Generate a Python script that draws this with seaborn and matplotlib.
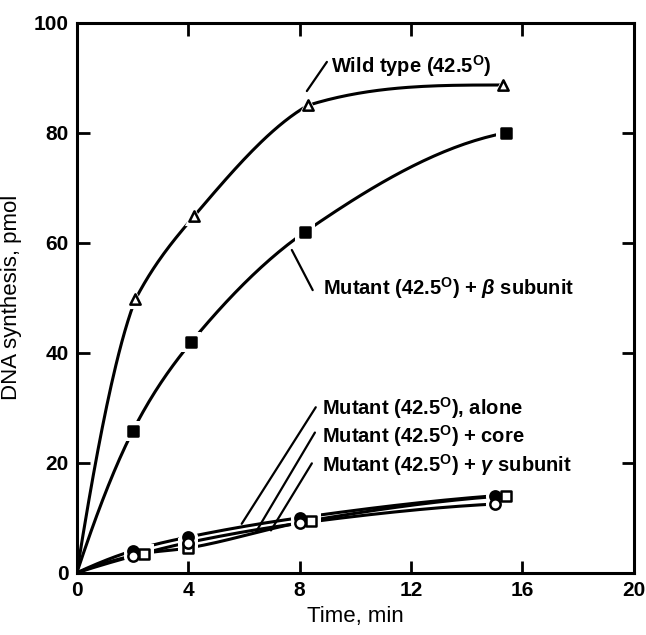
import numpy as np
import pandas as pd
import matplotlib
matplotlib.use("Agg")
import matplotlib.pyplot as plt
import seaborn as sns

# data (time in min, DNA synthesis in pmol)
wt_t = [0, 2.1, 4.2, 8.3, 15.3]
wt_y = [0, 49.7, 64.8, 85.0, 88.7]

beta_t = [0, 2.0, 4.1, 8.2, 15.4]
beta_y = [0, 25.7, 41.9, 62.0, 80.0]

alone_t = [0, 2.0, 4.0, 8.0, 15.0]
alone_y = [0, 4.0, 6.5, 10.0, 14.0]

core_t = [0, 2.4, 4.0, 8.4, 15.4]
core_y = [0, 3.5, 4.5, 9.5, 14.0]

gamma_t = [0, 2.0, 4.0, 8.0, 15.0]
gamma_y = [0, 3.0, 5.5, 9.0, 12.5]

xticks = [0, 4, 8, 12, 16, 20]
yticks = [0, 20, 40, 60, 80, 100]


def smooth(t, y, n=40):
    # hermite curve through the data points, only for drawing the line;
    # small bends at the symbols stay hidden under them, as in the original
    x = np.asarray(t, float)
    v = np.asarray(y, float)
    h = np.diff(x)
    d = np.diff(v) / h
    m = np.zeros_like(x)
    for k in range(1, len(x) - 1):
        if d[k - 1] * d[k] > 0:
            m[k] = np.sign(d[k]) * np.sqrt(d[k - 1] * d[k])
    m[0] = ((2 * h[0] + h[1]) * d[0] - h[0] * d[1]) / (h[0] + h[1])
    m[-1] = ((2 * h[-1] + h[-2]) * d[-1] - h[-1] * d[-2]) / (h[-1] + h[-2])
    m[0] = np.clip(m[0], 0, 3 * d[0])
    m[-1] = np.clip(m[-1], 0, 3 * d[-1])
    xs, ys = [], []
    for k in range(len(x) - 1):
        a, b, dk = m[k], m[k + 1], d[k]
        if a >= dk >= b:
            # keep each piece bending one way only
            if 2 * a + b < 3 * dk:
                b = 3 * dk - 2 * a
            if a + 2 * b > 3 * dk:
                a = 3 * dk - 2 * b
        s = np.linspace(0, 1, n)
        h00 = 2 * s**3 - 3 * s**2 + 1
        h10 = s**3 - 2 * s**2 + s
        h01 = -2 * s**3 + 3 * s**2
        h11 = s**3 - s**2
        xs.append(x[k] + s * h[k])
        ys.append(h00 * v[k] + h10 * h[k] * a + h01 * v[k + 1] + h11 * h[k] * b)
    return pd.DataFrame({"t": np.concatenate(xs), "y": np.concatenate(ys)})


sns.set_style("ticks")
plt.rcParams["font.family"] = ["Liberation Sans", "DejaVu Sans"]
plt.rcParams["text.color"] = "black"
plt.rcParams["axes.labelcolor"] = "black"
plt.rcParams["xtick.color"] = "black"
plt.rcParams["ytick.color"] = "black"
plt.rcParams["axes.edgecolor"] = "black"
plt.rcParams["mathtext.fontset"] = "custom"
plt.rcParams["mathtext.rm"] = "Liberation Sans:bold"
plt.rcParams["mathtext.it"] = "Liberation Sans:italic:bold"
plt.rcParams["mathtext.bf"] = "Liberation Sans:bold"

fig = plt.figure(figsize=(6.46, 6.35), dpi=100)
ax = fig.add_axes([0.119, 0.098, 0.862, 0.866])

series = [
    (wt_t, wt_y, "^", "white"),
    (beta_t, beta_y, "s", "black"),
    (alone_t, alone_y, "o", "black"),
    (core_t, core_y, "s", "white"),
    (gamma_t, gamma_y, "o", "white"),
]

for t, y, mk, fc in series:
    sns.lineplot(data=smooth(t, y), x="t", y="y", sort=False, estimator=None,
                 color="black", lw=2.2, ax=ax)
for t, y, mk, fc in series:
    pts = pd.DataFrame({"t": t[1:], "y": y[1:]})
    # white halo leaves the little gap around each symbol
    sns.scatterplot(data=pts, x="t", y="y", marker=mk, s=190, color="white",
                    edgecolor="white", linewidth=0, ax=ax, zorder=3)
    sns.scatterplot(data=pts, x="t", y="y", marker=mk, s=55, color=fc,
                    edgecolor="black", linewidth=1.8, ax=ax, zorder=4)

deg = r"$^{\mathrm{O}}$"
kw = dict(fontsize=14.5, fontweight="bold", va="center", ha="left")
ax.text(9.12, 92.2, "Wild type (42.5" + deg + ")", **kw)
ax.plot([8.26, 8.98], [87.6, 92.9], color="black", lw=1.6)
ax.text(8.83, 51.7, "Mutant (42.5" + deg + r") + $\it{\beta}$ subunit", **kw)
ax.plot([7.72, 8.47], [58.7, 51.4], color="black", lw=1.6)

ax.text(8.8, 29.9, "Mutant (42.5" + deg + "), alone", **kw)
ax.text(8.8, 24.8, "Mutant (42.5" + deg + ") + core", **kw)
ax.text(8.8, 19.5, "Mutant (42.5" + deg + r") + $\it{\gamma}$ subunit", **kw)
ax.plot([8.58, 5.92], [30.1, 8.9], color="black", lw=1.6)
ax.plot([8.55, 6.44], [25.5, 7.5], color="black", lw=1.6)
ax.plot([8.44, 6.97], [19.9, 7.7], color="black", lw=1.6)

ax.set_xlim(0, 20)
ax.set_ylim(0, 100)
ax.set_xticks(xticks)
ax.set_yticks(yticks)
ax.tick_params(direction="in", length=9, width=2, top=True, right=True,
               labelsize=15, pad=6)
for lab in ax.get_xticklabels() + ax.get_yticklabels():
    lab.set_fontweight("bold")
for sp in ax.spines.values():
    sp.set_visible(True)
    sp.set_linewidth(2.2)
ax.set_xlabel("Time, min", fontsize=16, labelpad=4)
ax.set_ylabel("DNA synthesis, pmol", fontsize=16, labelpad=8)

fig.savefig("out.png", dpi=100)
